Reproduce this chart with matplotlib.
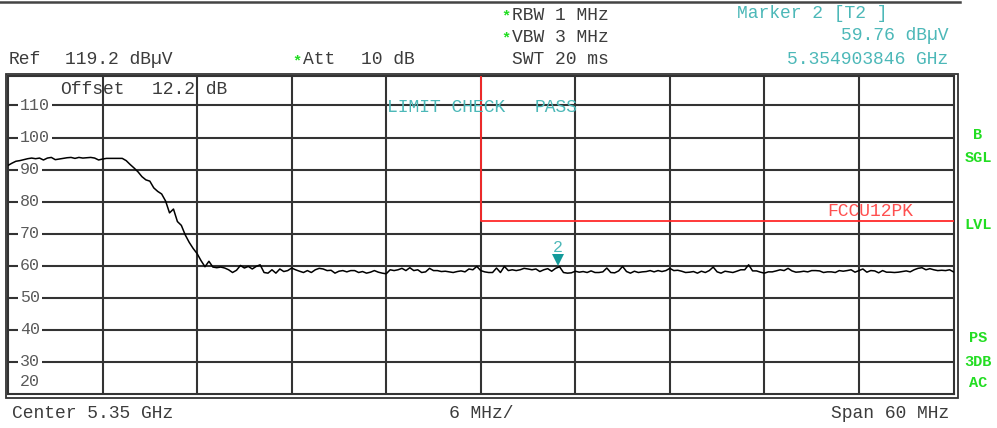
import numpy as np
import matplotlib
matplotlib.use("Agg")
import matplotlib.pyplot as plt
from matplotlib.lines import Line2D
from matplotlib.transforms import offset_copy, blended_transform_factory

# --- sweep settings ---
center_ghz = 5.35
span_ghz = 0.06
ref_level = 119.2
bottom_level = 20.0
y_grid = [110, 100, 90, 80, 70, 60, 50, 40, 30]
y_labels = ["110", "100", "90", "80", "70", "60", "50", "40", "30", "20"]

# trace level (dBuV), one value every 0.25 MHz from 5.32 GHz
trace_dbuv = [
    91.3, 92.0, 92.6, 92.8,
    93.1, 93.4, 93.6, 93.4,
    93.6, 93.0, 93.6, 93.8,
    93.1, 93.3, 93.5, 93.7,
    93.8, 93.5, 93.8, 93.6,
    93.7, 93.8, 93.6, 93.0,
    93.3, 93.5, 93.5, 93.5,
    93.5, 93.5, 92.8, 91.6,
    90.5, 89.3, 87.8, 86.8,
    86.4, 84.3, 83.2, 82.4,
    80.2, 76.5, 77.7, 73.8,
    72.6, 69.6, 67.3, 65.4,
    63.8, 61.6, 59.7, 61.4,
    59.6, 59.4, 59.6, 59.3,
    58.75, 57.9, 58.6, 60.1,
    59.3, 59.8, 59.0, 59.8,
    60.3, 57.9, 57.7, 58.75,
    57.7, 59.0, 58.2, 58.5,
    59.3, 58.75, 58.3, 57.9,
    58.5, 57.9, 58.75, 59.2,
    59.0, 58.5, 58.6, 57.7,
    58.3, 58.5, 58.1, 58.5,
    58.5, 57.9, 58.2, 57.7,
    58.0, 58.5, 58.0, 57.7,
    57.5, 58.75, 58.5, 58.75,
    59.2, 58.5, 59.4, 58.5,
    58.75, 57.9, 58.1, 59.2,
    58.5, 58.5, 58.2, 58.3,
    58.1, 57.9, 58.2, 58.4,
    58.1, 59.0, 58.75, 59.8,
    58.5, 58.1, 57.9, 57.9,
    59.3, 57.9, 59.8, 58.5,
    58.75, 58.5, 58.75, 59.2,
    59.0, 58.75, 59.0, 58.2,
    58.75, 59.1, 58.3, 59.2,
    59.7, 57.9, 57.7, 57.8,
    58.3, 58.0, 58.2, 57.9,
    58.4, 57.9, 57.9, 58.1,
    59.3, 57.9, 57.8, 58.4,
    59.8, 58.2, 57.7, 58.3,
    57.9, 58.1, 58.2, 58.5,
    58.1, 58.5, 58.2, 58.5,
    59.2, 58.5, 58.6, 58.3,
    57.9, 58.0, 58.2, 57.7,
    58.3, 57.9, 58.5, 59.6,
    58.1, 57.7, 58.3, 58.1,
    57.9, 58.3, 58.75, 58.75,
    60.3, 58.4, 58.4, 58.0,
    57.7, 58.1, 58.1, 58.4,
    58.75, 58.5, 59.2, 58.4,
    58.0, 58.1, 58.3, 58.1,
    58.5, 58.5, 58.4, 57.9,
    58.1, 58.1, 57.9, 58.5,
    58.3, 58.5, 58.75, 58.0,
    58.5, 59.0, 58.0, 58.5,
    58.4, 57.8, 58.5, 58.0,
    58.0, 57.9, 58.0, 58.2,
    58.4, 58.1, 58.75, 59.2,
    59.4, 58.75, 59.1, 58.75,
    58.5, 58.6, 58.5, 58.75,
    58.1,
]

# limit line FCCU12PK
limit_ghz = [5.35, 5.35, 5.38]
limit_dbuv = [130.0, 74.0, 74.0]

# marker 2
marker_ghz = 5.354903846
marker_dbuv = 59.76

W, H = 997, 428
FONT = "Liberation Mono"
GRAY = "#3c3c3c"
LGRAY = "#5a5a5a"
CYAN = "#4cb8b8"
GREEN = "#22dd22"
RED = "#ff2a2a"

f0 = center_ghz - span_ghz / 2
f1 = center_ghz + span_ghz / 2
freq = np.linspace(f0, f1, len(trace_dbuv))

fig = plt.figure(figsize=(W / 100, H / 100), dpi=100)
fig.patch.set_facecolor("white")


def px(x, y):
    return x / W, 1 - y / H


def ftext(x, y, s, color=GRAY, ha="left", size=13, weight="normal"):
    fig.text(*px(x, y), s, color=color, ha=ha, va="center", fontsize=size,
             family=FONT, fontweight=weight)


# plot area 8..953 x 76..395 px
ax_l, ax_r, ax_t, ax_b = 8, 953.5, 76, 394
ax = fig.add_axes([ax_l / W, 1 - ax_b / H, (ax_r - ax_l) / W, (ax_b - ax_t) / H])
ax.set_xlim(f0, f1)
ax.set_ylim(bottom_level, ref_level)
ax.set_xticks([])
ax.set_yticks([])
for sp in ax.spines.values():
    sp.set_color("#333333")
    sp.set_linewidth(1.5)

# grid
for k in range(1, 10):
    ax.axvline(f0 + k * span_ghz / 10, color="#333333", lw=1.5, zorder=1)
for yv in y_grid:
    ax.axhline(yv, color="#333333", lw=1.5, zorder=1)

# level labels with white background over the grid lines
tr = blended_transform_factory(ax.transAxes, ax.transData)
label_pos = y_grid + [23.75]
for yv, lab in zip(label_pos, y_labels):
    ax.text(12 / (ax_r - ax_l), yv, lab, transform=tr, ha="left", va="center",
            fontsize=12, family=FONT, color=LGRAY, zorder=2,
            bbox=dict(facecolor="white", edgecolor="none", pad=1.2))

# limit line and trace
ax.plot(limit_ghz, limit_dbuv, color=RED, lw=1.3, zorder=3)
ax.plot(freq, trace_dbuv, color="black", lw=1.1, zorder=4)

# marker 2
mk_tr = offset_copy(ax.transData, fig=fig, x=0, y=4.5, units="points")
ax.plot([marker_ghz], [marker_dbuv], marker="v", markersize=8, color="#139a9a",
        markeredgewidth=0, transform=mk_tr, zorder=5)
lab_tr = offset_copy(ax.transData, fig=fig, x=0, y=14, units="points")
ax.text(marker_ghz, marker_dbuv, "2", transform=lab_tr, ha="center", va="center",
        fontsize=12, family=FONT, color=CYAN, zorder=5)

# texts inside the grid
ftext(60, 90, "Offset")
ftext(152, 90, "12.2 dB")
ftext(387, 108, "LIMIT CHECK", color=CYAN)
ftext(535, 108, "PASS", color=CYAN)
ftext(827, 211, "FCCU12PK", color="#ff5050")

# outer frames
fig.add_artist(plt.Rectangle(px(5.5, 397.5), (957.5 - 5.5) / W, (397.5 - 74.3) / H,
                             transform=fig.transFigure, fill=False,
                             edgecolor="#333333", lw=1.3))
fig.add_artist(Line2D([0, 960 / W], [1 - 2 / H] * 2, color="#444444", lw=1.8))

# header
ftext(501, 16, "*", color=GREEN, size=11, weight="bold")
ftext(512, 15, "RBW 1 MHz")
ftext(501, 38, "*", color=GREEN, size=11, weight="bold")
ftext(512, 37, "VBW 3 MHz")
ftext(512, 60, "SWT 20 ms")
ftext(737, 13, "Marker 2 [T2 ]", color=CYAN)
ftext(948, 36, f"{marker_dbuv:.2f} dBµV", color=CYAN, ha="right")
ftext(948, 59, f"{marker_ghz:.9f} GHz", color=CYAN, ha="right")
ftext(9, 60, "Ref")
ftext(65, 60, f"{ref_level} dBµV")
ftext(292, 61, "*", color=GREEN, size=11, weight="bold")
ftext(303, 60, "Att")
ftext(361, 60, "10 dB")

# right side status
for yy, s in [(135, "B"), (158, "SGL"), (225, "LVL"), (338, "PS"), (362, "3DB"), (383, "AC")]:
    ftext(978, yy, s, color=GREEN, ha="center", size=11, weight="bold")

# footer
ftext(12, 413, f"Center {center_ghz} GHz")
ftext(481, 413, "6 MHz/", ha="center")
ftext(949, 413, "Span 60 MHz", ha="right")

fig.savefig("out.png", dpi=100)
